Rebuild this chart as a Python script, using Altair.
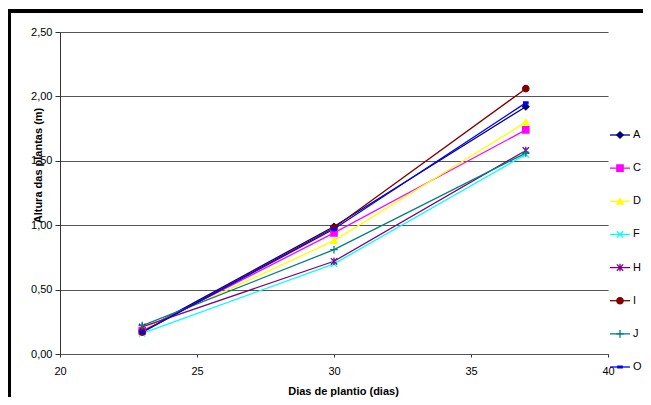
import altair as alt
import pandas as pd

dias = [23, 30, 37]
series = ["A", "C", "D", "F", "H", "I", "J", "O"]
val_A = [0.18, 0.99, 1.92]
val_C = [0.18, 0.94, 1.74]
val_D = [0.19, 0.88, 1.80]
val_F = [0.16, 0.70, 1.55]
val_H = [0.21, 0.72, 1.58]
val_I = [0.17, 0.98, 2.06]
val_J = [0.22, 0.81, 1.56]
val_O = [0.17, 0.97, 1.95]
cores = ["#000080", "#FF00FF", "#FFFF00", "#00FFFF", "#800080", "#800000", "#008080", "#0000FF"]
formas = [
    "diamond",
    "square",
    "triangle-up",
    "M-1,-1L1,1M-1,1L1,-1",
    "M-1,-1L1,1M-1,1L1,-1M0,-1.2L0,1.2",
    "circle",
    "M-1.2,0L1.2,0M0,-1.2L0,1.2",
    "M-0.7,-0.3L0.7,-0.3L0.7,0.3L-0.7,0.3Z",
]
x_ticks = [20, 25, 30, 35, 40]
y_ticks = [0, 0.5, 1.0, 1.5, 2.0, 2.5]

valores = [val_A, val_C, val_D, val_F, val_H, val_I, val_J, val_O]
rows = []
for s, vals in zip(series, valores):
    for d, v in zip(dias, vals):
        rows.append({"serie": s, "dia": d, "altura": v})
df = pd.DataFrame(rows)
leg = pd.DataFrame({"serie": series})

FONT = "Liberation Sans"
cscale = alt.Scale(domain=series, range=cores)
sscale = alt.Scale(domain=series, range=formas)

xenc = alt.X("dia:Q", scale=alt.Scale(domain=[20, 40], nice=False),
             axis=alt.Axis(values=x_ticks, title="Dias de plantio (dias)", grid=False,
                           domainColor="#555555", tickColor="#333333", tickSize=3,
                           labelPadding=8, labelFontSize=11, labelColor="#000000",
                           labelFont=FONT, titleFont=FONT, titleFontSize=11,
                           titleFontWeight="bold", titleColor="#000000",
                           titleX=283, titleY=37, titleBaseline="middle",
                           labelFlush=False))
ysc = alt.Scale(domain=[0, 2.5], nice=False)
yenc = alt.Y("altura:Q", scale=ysc,
             axis=alt.Axis(values=y_ticks,
                           labelExpr="replace(format(datum.value, '.2f'), '.', ',')",
                           title="Altura das plantas (m)", grid=True,
                           gridColor="#555555", gridWidth=1.2, gridOpacity=1,
                           domainColor="#333333", tickColor="#333333", tickSize=5,
                           labelPadding=3, labelFontSize=11, labelColor="#000000",
                           labelFont=FONT, titleFont=FONT, titleFontSize=11,
                           titleFontWeight="bold", titleColor="#000000",
                           titleX=-22, titleY=133, titleAngle=-90,
                           titleBaseline="middle", titleAlign="center"))

base = alt.Chart(df)
lines = base.mark_line(strokeWidth=1.3).encode(
    x=xenc, y=yenc,
    color=alt.Color("serie:N", scale=cscale, legend=None),
    detail="serie:N",
)
points = base.mark_point(size=40, strokeWidth=1.3, opacity=1).encode(
    x=xenc, y=yenc,
    shape=alt.Shape("serie:N", scale=sscale, legend=None),
    fill=alt.Fill("serie:N", scale=cscale, legend=None),
    stroke=alt.Stroke("serie:N", scale=cscale, legend=None),
)
main = alt.layer(lines, points)

legy = alt.Y("serie:N", scale=alt.Scale(domain=series, range=[103, 335], type="point", padding=0), axis=None)
lbase = alt.Chart(leg)
leg_lines = lbase.mark_rule(strokeWidth=1.3).encode(
    x=alt.value(550), x2=alt.value(570), y=legy,
    color=alt.Color("serie:N", scale=cscale, legend=None),
)
leg_pts = lbase.mark_point(size=40, strokeWidth=1.3, opacity=1).encode(
    x=alt.value(560), y=legy,
    shape=alt.Shape("serie:N", scale=sscale, legend=None),
    fill=alt.Fill("serie:N", scale=cscale, legend=None),
    stroke=alt.Stroke("serie:N", scale=cscale, legend=None),
)
leg_txt = lbase.mark_text(align="left", baseline="middle", font=FONT, fontSize=11, color="#000000").encode(
    x=alt.value(573), y=legy, text="serie:N",
)
legend_layer = alt.layer(leg_lines, leg_pts, leg_txt)
frame = lbase.mark_rect(fill=None, stroke="#000000", strokeWidth=3).encode(
    x=alt.value(-50.5), x2=alt.value(640), y=alt.value(-21), y2=alt.value(420),
)

chart = alt.layer(main, legend_layer, frame).resolve_scale(
    y="independent"
).properties(
    width=548, height=322,
    background="#ffffff",
    autosize=alt.AutoSizeParams(type="none"),
    padding={"left": 52, "top": 24, "right": 35, "bottom": 43},
).configure_view(stroke=None)

chart.save("out.html", embed_options={"renderer": "svg", "actions": False})
